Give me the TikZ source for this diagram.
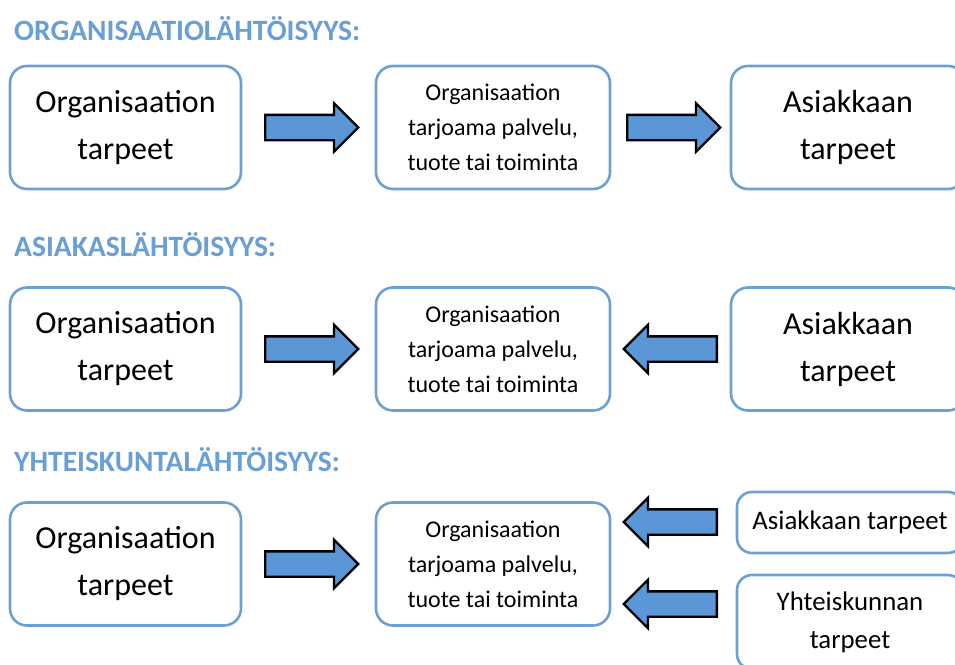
\documentclass[tikz,border=0pt]{standalone}
\usepackage{fontspec}
\setmainfont{Carlito}
\usetikzlibrary{shapes.arrows}
\definecolor{hblue}{HTML}{6A9FD6}
\definecolor{bblue}{HTML}{6C9FD2}
\definecolor{ablue}{HTML}{5B96D6}
\tikzset{
  heading/.style={anchor=west, text=hblue, font=\bfseries\fontsize{29.5}{32}\selectfont, inner sep=0pt},
  bigbox/.style={draw=bblue, line width=2.6pt, rounded corners=17pt, fill=white,
    minimum width=231pt, minimum height=123pt, align=center, inner sep=0pt,
    font=\fontsize{32}{47}\selectfont},
  midbox/.style={draw=bblue, line width=2.6pt, rounded corners=17pt, fill=white,
    minimum width=234pt, minimum height=123pt, align=center, inner sep=0pt,
    font=\fontsize{24}{35}\selectfont},
  smallbox/.style={draw=bblue, line width=2.6pt, rounded corners=15pt, fill=white,
    minimum width=226pt, align=center, inner sep=0pt,
    font=\fontsize{26.8}{38}\selectfont},
  blockarrow/.style={single arrow, draw=black, fill=ablue, line width=2.3pt,
    minimum height=93pt, inner xsep=0pt, inner ysep=11.5pt, text width=0pt,
    single arrow head extend=11.5pt, single arrow head indent=0pt, line join=miter,
    anchor=tail},
  leftarrow/.style={blockarrow, shape border rotate=180},
}
\begin{document}
\begin{tikzpicture}[x=1pt,y=-1pt]
\useasboundingbox (0,0) rectangle (955,664);
\clip (0,0) rectangle (955,664);
\fill[white] (0,0) rectangle (955,664);
% Row 1
\node[heading] (h1) at (14,29) {ORGANISAATIOLÄHTÖISYYS:};
\node[bigbox] (a1) at (125.5,127.5) {Organisaation\\tarpeet};
\node[midbox] (b1) at (493,127.5) {Organisaation\\tarjoama palvelu,\\tuote tai toiminta};
\node[bigbox, minimum width=234pt] (c1) at (848,127.5) {Asiakkaan\\tarpeet};
\node[blockarrow] (r1a) at (264,127.5) {};
\node[blockarrow] (r1b) at (626,127.5) {};
% Row 2
\node[heading] (h2) at (14,245) {ASIAKASLÄHTÖISYYS:};
\node[bigbox] (a2) at (125.5,349) {Organisaation\\tarpeet};
\node[midbox] (b2) at (493,349) {Organisaation\\tarjoama palvelu,\\tuote tai toiminta};
\node[bigbox, minimum width=234pt] (c2) at (848,349) {Asiakkaan\\tarpeet};
\node[blockarrow] (r2a) at (264,349) {};
\node[leftarrow] (r2b) at (718,349) {};
% Row 3
\node[heading] (h3) at (14,460) {YHTEISKUNTALÄHTÖISYYS:};
\node[bigbox] (a3) at (125.5,564) {Organisaation\\tarpeet};
\node[midbox] (b3) at (493,564) {Organisaation\\tarjoama palvelu,\\tuote tai toiminta};
\node[smallbox, minimum height=61pt] (c3) at (850,522.5) {Asiakkaan tarpeet};
\node[smallbox, minimum height=94pt] (d3) at (850,622) {Yhteiskunnan\\tarpeet};
\node[blockarrow] (r3a) at (264,564) {};
\node[leftarrow] (r3b) at (718,522) {};
\node[leftarrow] (r3c) at (718,604) {};
\end{tikzpicture}
\end{document}
